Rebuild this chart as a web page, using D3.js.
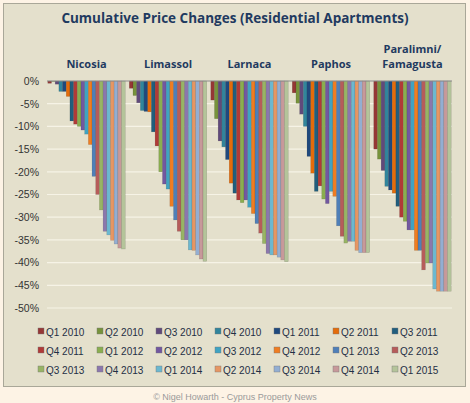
<!DOCTYPE html>
<html><head><meta charset="utf-8">
<script src="https://cdn.jsdelivr.net/npm/d3@7"></script>
<style>body{margin:0;background:#fdf3e5}</style>
</head><body><svg id="c" width="470" height="403"></svg>
<script>
const cities = ['Nicosia', 'Limassol', 'Larnaca', 'Paphos', 'Paralimni/ Famagusta']
const quarters = ['Q1 2010','Q2 2010','Q3 2010','Q4 2010','Q1 2011','Q2 2011','Q3 2011',
  'Q4 2011','Q1 2012','Q2 2012','Q3 2012','Q4 2012','Q1 2013','Q2 2013',
  'Q3 2013','Q4 2013','Q1 2014','Q2 2014','Q3 2014','Q4 2014','Q1 2015']
const nicosia = [-0.5,-0.1,-0.7,-2.3,-2.3,-3.4,-8.8,-9.5,-10,-10.8,-11.7,-14,-21,-25,-28.4,-33.1,-33.9,-35.1,-35.9,-36.8,-37]
const limassol = [-1.6,-3.2,-4.8,-6.5,-6.7,-6.8,-11.2,-14.3,-20,-22.7,-23.8,-27.6,-30.6,-33.1,-35,-35,-37.2,-37.3,-38.3,-39.2,-39.7]
const larnaca = [-4.2,-8.3,-13.2,-14.5,-17.3,-22.5,-24.7,-26.2,-26.8,-26.2,-27.8,-29.2,-31.4,-33.5,-35.8,-38,-38.3,-38.3,-38.8,-39.4,-39.8]
const paphos = [-2.6,-4.9,-7.3,-10,-16.6,-20.3,-24.3,-23.1,-26,-27,-24.3,-25.4,-31.9,-34.2,-35.7,-35.3,-35.3,-37.3,-37.8,-37.8,-37.8]
const famagusta = [-15,-17.2,-19.7,-23.2,-24,-24.7,-27.6,-30,-30.9,-32.8,-32.8,-37.3,-37.3,-41.6,-40.1,-40.1,-45.8,-46.3,-46.3,-46.3,-46.3]
const values = [nicosia, limassol, larnaca, paphos, famagusta]
const colors = ['#953735','#77933c','#604a7b','#31859c','#1f497d','#e46c0a','#215e7d',
  '#b03a37','#8aae4f','#7258a0','#3fa3c2','#ef7d22','#4f7fb8','#b65c5a',
  '#98b465','#8b77ad','#6cb8d0','#e69663','#93aed2','#c7999a','#b4c49a']
const yTicks = d3.range(0, -51, -5)

const svg = d3.select('#c')
svg.append('rect').attr('x', 3.5).attr('y', 3.5).attr('width', 462).attr('height', 383)
  .attr('fill', '#e4e0cc').attr('stroke', '#a9a798')
svg.append('text').attr('x', 235).attr('y', 23).attr('text-anchor', 'middle')
  .attr('font-family', 'Open Sans, sans-serif').attr('font-weight', 'bold').attr('font-size', 13.5)
  .attr('fill', '#1f3a60').text('Cumulative Price Changes (Residential Apartments)')

const y = d3.scaleLinear().domain([0, -50]).range([81, 308])
const x0 = d3.scaleBand().domain(cities).range([47, 452]).paddingInner(0.05).paddingOuter(0.01)
const x1 = d3.scaleBand().domain(quarters).range([0, x0.bandwidth()])

const gy = svg.append('g').attr('transform', 'translate(47,0)')
  .call(d3.axisLeft(y).tickValues(yTicks).tickFormat(d => d + '%').tickSize(0).tickPadding(8))
gy.select('.domain').remove()
gy.selectAll('text').attr('font-family', 'Liberation Sans, Arial, sans-serif').attr('font-size', 10.5).attr('fill', '#333')
svg.append('g').selectAll('line').data(yTicks.slice(1)).join('line')
  .attr('x1', 47).attr('x2', 452).attr('y1', d => y(d)).attr('y2', d => y(d))
  .attr('stroke', '#f6f3e6').attr('stroke-width', 1.2)

cities.forEach((c, ci) => {
  const g = svg.append('g').attr('transform', `translate(${x0(c)},0)`)
  g.selectAll('rect').data(values[ci]).join('rect')
    .attr('x', (d, i) => x1(quarters[i])).attr('y', y(0))
    .attr('width', x1.bandwidth()).attr('height', d => y(d) - y(0))
    .attr('fill', (d, i) => colors[i]).attr('stroke', 'rgba(0,0,0,0.2)').attr('stroke-width', 0.5)
  const parts = c.split(' ')
  const t = g.append('text').attr('x', x0.bandwidth() / 2).attr('text-anchor', 'middle')
    .attr('font-family', 'Open Sans, sans-serif').attr('font-weight', 'bold').attr('font-size', 11)
    .attr('fill', '#1f3a60')
  parts.forEach((p, i) => t.append('tspan').attr('x', x0.bandwidth() / 2)
    .attr('y', 68 - (parts.length - 1 - i) * 15).text(p))
})
svg.append('line').attr('x1', 47).attr('x2', 452).attr('y1', y(0)).attr('y2', y(0))
  .attr('stroke', '#8c8c8c').attr('stroke-width', 1.2)

const leg = svg.append('g').selectAll('g').data(quarters).join('g')
  .attr('transform', (d, i) => `translate(${38 + (i % 7) * 59},${332 + Math.floor(i / 7) * 19})`)
leg.append('rect').attr('x', 0).attr('y', -4).attr('width', 6).attr('height', 6)
  .attr('fill', (d, i) => colors[i]).attr('stroke', '#777').attr('stroke-width', 0.4)
leg.append('text').attr('x', 8).attr('y', 3.5).attr('font-family', 'Liberation Sans, Arial, sans-serif')
  .attr('font-size', 10).attr('fill', '#1f2f45').text(d => d)

svg.append('text').attr('x', 235).attr('y', 400).attr('text-anchor', 'middle')
  .attr('font-family', 'Liberation Sans, Arial, sans-serif').attr('font-size', 9).attr('fill', '#9a9a9a')
  .text('© Nigel Howarth - Cyprus Property News')
</script></body></html>
